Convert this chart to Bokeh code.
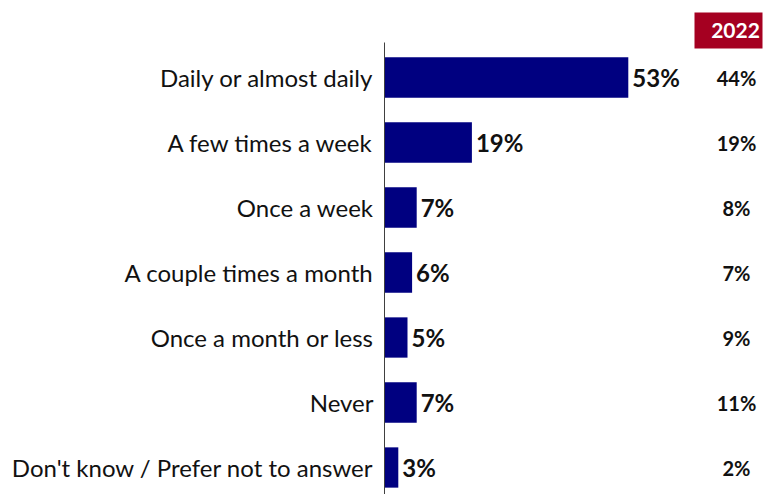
from bokeh.plotting import figure
from bokeh.models import Range1d, ColumnDataSource
from bokeh.core.properties import value
from bokeh.embed import file_html
from bokeh.resources import INLINE

categories = ["Daily or almost daily", "A few times a week", "Once a week",
              "A couple times a month", "Once a month or less", "Never",
              "Don't know / Prefer not to answer"]
values_2024 = [53, 19, 7, 6, 5, 7, 3]
values_2022 = [44, 19, 8, 7, 9, 11, 2]
year_label = "2022"

W, H = 764, 494
PX_PER_UNIT = 4.6        # pixels per percentage point
AXIS_PX = 384            # frame x of the value axis
ROW_PX = 65              # pixels per category row
FIRST_ROW_PX = 77        # frame y of first row center

x0 = -AXIS_PX / PX_PER_UNIT
x1 = (W - AXIS_PX) / PX_PER_UNIT
ytop = -FIRST_ROW_PX / ROW_PX
ybot = (H - FIRST_ROW_PX) / ROW_PX

def px_to_x(px):
    return (px - AXIS_PX) / PX_PER_UNIT

def py_to_y(py):
    return (py - FIRST_ROW_PX) / ROW_PX

idx = list(range(len(categories)))
src = ColumnDataSource(dict(
    y=idx, cat=categories, v=values_2024, v22=values_2022,
    lab=[f"{v}%" for v in values_2024], lab22=[f"{v}%" for v in values_2022],
    zero=[0] * len(idx), col22=[px_to_x(736)] * len(idx),
))

p = figure(width=W, height=H, output_backend="svg", toolbar_location=None,
           x_range=Range1d(x0, x1), y_range=Range1d(ybot, ytop),
           min_border=0, outline_line_color=None)
p.axis.visible = False
p.grid.visible = False
p.background_fill_color = "white"

p.hbar(y="y", left=0, right="v", height=0.62, source=src,
       fill_color="#000080", line_color=None)

# axis line
p.segment(x0=[0], y0=[py_to_y(42)], x1=[0], y1=[ybot], line_color="#404040", line_width=1)

font = value("Lato")
p.text(x="zero", y="y", text="cat", source=src, text_align="right", text_baseline="middle",
       x_offset=-11, text_font=font, text_font_size="24px", text_color="#111111")
p.text(x="v", y="y", text="lab", source=src, text_align="left", text_baseline="middle",
       x_offset=4, text_font=font, text_font_size="24px", text_font_style="bold",
       text_color="#111111")
p.text(x="col22", y="y", text="lab22", source=src, text_align="center", text_baseline="middle",
       text_font=font, text_font_size="20px", text_font_style="bold", text_color="#111111")

# year badge
p.quad(left=[px_to_x(694)], right=[px_to_x(762)], top=[py_to_y(12)], bottom=[py_to_y(48)],
       fill_color="#A50021", line_color=None)
p.text(x=[px_to_x(735)], y=[py_to_y(30)], text=[year_label], text_align="center",
       text_baseline="middle", text_font=font, text_font_size="21px",
       text_font_style="bold", text_color="white")

open("out.html", "w").write(file_html(p, INLINE))
